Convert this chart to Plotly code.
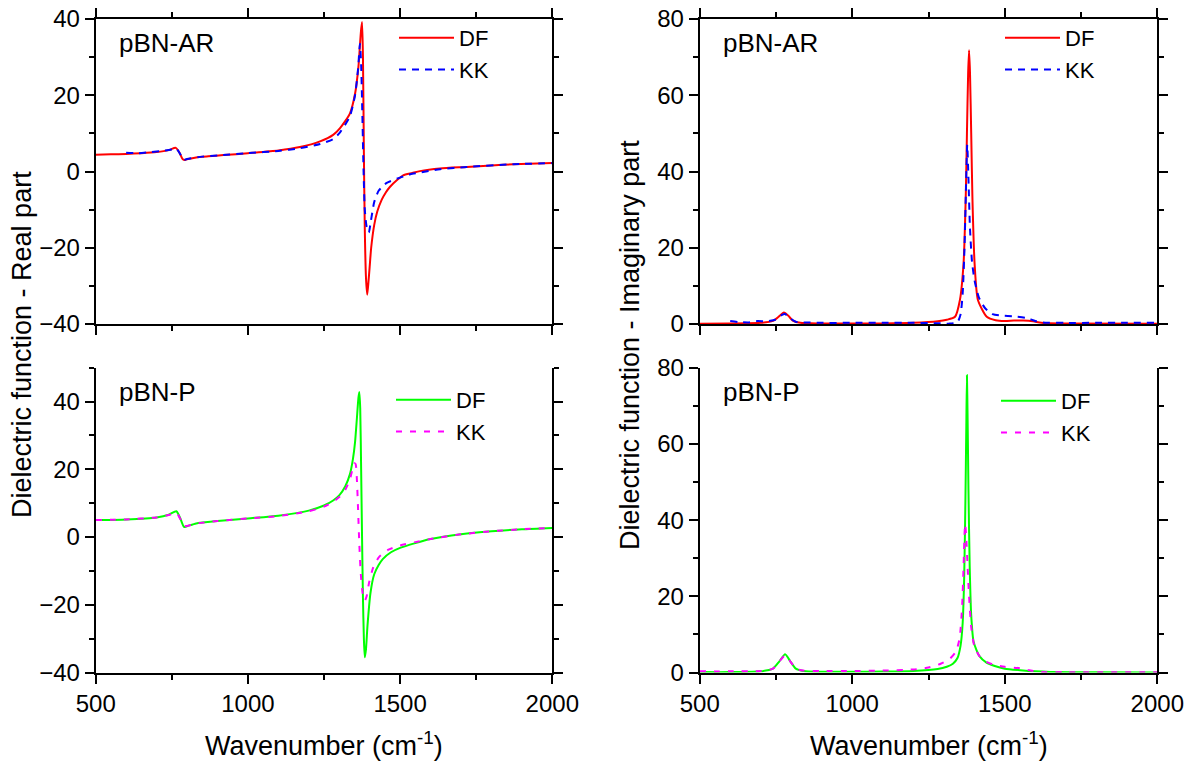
import plotly.graph_objects as go

# ---------------- data ----------------
# pBN-AR, real part
ar_re_df_x = [500, 550, 600, 650, 700, 740, 763, 775, 785, 791, 800, 830, 870, 920, 1000, 1100, 1171, 1237,
              1280, 1302, 1335, 1352, 1363, 1371, 1375, 1378, 1381, 1384, 1388, 1392, 1396, 1400, 1405, 1415,
              1425, 1439, 1453, 1467, 1489, 1510, 1540, 1565, 1631, 1719, 1800, 1872, 2000]
ar_re_df_y = [4.4, 4.5, 4.6, 4.8, 5.1, 5.6, 6.2, 5.0, 3.3, 3.0, 3.2, 3.7, 4.0, 4.3, 4.8, 5.5, 6.4, 7.9,
              9.6, 11.3, 15.2, 20.4, 27.4, 36.4, 39.2, 30, 5, -15, -28, -32.3, -29, -25, -20, -14,
              -10.5, -7.5, -5.5, -4.0, -2.3, -1.0, -0.4, 0.1, 0.8, 1.2, 1.6, 1.9, 2.25]
ar_re_kk_x = [600, 640, 680, 720, 750, 765, 778, 790, 800, 850, 900, 1000, 1100, 1171, 1237, 1280, 1302,
              1335, 1352, 1362, 1368, 1372, 1376, 1380, 1384, 1390, 1397, 1404, 1415, 1430, 1456, 1500,
              1540, 1565, 1631, 1719, 1872, 2000]
ar_re_kk_y = [4.9, 4.8, 5.1, 5.4, 5.8, 6.0, 4.5, 3.0, 3.3, 3.9, 4.2, 4.8, 5.4, 6.1, 7.2, 8.5, 10.2,
              14.5, 20, 27, 33.5, 28, 15, 0, -10, -14.5, -16, -13, -8, -5, -3, -1.6,
              -0.6, -0.3, 0.6, 1.2, 1.9, 2.2]

# pBN-AR, imaginary part
ar_im_df_x = [500, 600, 700, 740, 760, 776, 790, 805, 830, 900, 1000, 1100, 1200, 1280, 1310, 1337, 1353,
              1365, 1372, 1376, 1380, 1383, 1386, 1390, 1394, 1401, 1412, 1441, 1470, 1500, 1530, 1560,
              1593, 1620, 1700, 2000]
ar_im_df_y = [0.05, 0.1, 0.3, 0.8, 2.0, 3.0, 2.2, 0.9, 0.3, 0.15, 0.1, 0.15, 0.3, 0.7, 1.1, 1.9, 6.3,
              16, 33, 50, 66, 71.8, 66, 50, 33, 16, 6.3, 1.9, 1.0, 0.8, 0.9, 0.9,
              0.7, 0.3, 0.1, 0.05]
ar_im_kk_x = [600, 630, 660, 690, 720, 750, 770, 780, 795, 815, 850, 900, 1000, 1100, 1200, 1280, 1320,
              1345, 1355, 1362, 1368, 1373, 1377, 1381, 1386, 1393, 1402, 1415, 1435, 1460, 1490, 1530,
              1570, 1600, 1625, 1700, 1800, 1900, 1990]
ar_im_kk_y = [0.8, 0.5, 0.4, 0.8, 0.7, 1.2, 2.4, 2.6, 1.6, 0.6, 0.4, 0.3, 0.3, 0.3, 0.3, 0.2, 0.1,
              0.5, 2.5, 8, 20, 36, 47, 38, 25, 16, 11, 7, 4.2, 2.6, 2.2, 2.0,
              1.6, 0.8, 0.4, 0.3, 0.3, 0.3, 0.3]

# pBN-P, real part
p_re_df_x = [500, 600, 700, 740, 765, 778, 790, 800, 830, 900, 1000, 1100, 1200, 1250, 1280, 1300, 1320,
             1335, 1345, 1352, 1358, 1363, 1366, 1369, 1372, 1375, 1378, 1381, 1384, 1388, 1393, 1403,
             1415, 1430, 1443, 1470, 1500, 1550, 1600, 1700, 1800, 1900, 2000]
p_re_df_y = [5.0, 5.2, 5.8, 6.6, 7.6, 5.5, 3.0, 3.2, 4.0, 4.7, 5.5, 6.3, 7.8, 9.3, 10.8, 12.3, 15,
             18.5, 23, 28, 35, 41, 42.8, 38, 20, 0, -18, -30, -35.5, -33, -26, -16.3,
             -11, -8.2, -6.5, -4.5, -3.2, -1.8, -0.6, 0.8, 1.7, 2.3, 2.7]
p_re_kk_x = [500, 600, 700, 740, 765, 778, 790, 800, 830, 900, 1000, 1100, 1200, 1250, 1280, 1300, 1320,
             1335, 1345, 1350, 1354, 1358, 1362, 1366, 1371, 1377, 1384, 1390, 1398, 1412, 1430, 1460,
             1500, 1550, 1600, 1700, 1800, 1900, 2000]
p_re_kk_y = [5.0, 5.2, 5.8, 6.5, 7.2, 5.3, 3.2, 3.3, 4.0, 4.7, 5.5, 6.2, 7.6, 9.0, 10.4, 11.8, 14,
             17, 20.5, 21.8, 21.5, 17, 8, -2, -11, -16.5, -18.8, -17.5, -13.5, -8.9, -6, -3.8,
             -2.5, -1.5, -0.6, 0.8, 1.7, 2.3, 2.7]

# pBN-P, imaginary part
p_im_df_x = [500, 600, 700, 740, 760, 780, 798, 815, 840, 900, 1000, 1100, 1200, 1280, 1310, 1330, 1345,
             1355, 1362, 1367, 1371, 1374, 1376, 1378, 1381, 1385, 1390, 1398, 1417, 1440, 1467, 1500,
             1550, 1600, 1650, 1800, 2000]
p_im_df_y = [0.1, 0.1, 0.3, 1.0, 2.8, 4.8, 2.8, 1.0, 0.4, 0.2, 0.2, 0.25, 0.4, 0.9, 1.5, 2.3, 3.8,
             7, 13, 25, 45, 65, 78, 68, 48, 28, 15, 8, 4.3, 2.6, 1.7, 1.0,
             0.6, 0.3, 0.15, 0.05, 0.03]
p_im_kk_x = [500, 600, 700, 740, 760, 780, 798, 815, 840, 900, 1000, 1100, 1200, 1250, 1290, 1320, 1340,
             1352, 1360, 1365, 1370, 1374, 1378, 1383, 1390, 1400, 1417, 1440, 1467, 1500, 1550, 1580,
             1610, 1700, 2000]
p_im_kk_y = [0.3, 0.3, 0.4, 1.0, 2.8, 4.5, 2.8, 1.0, 0.5, 0.4, 0.4, 0.5, 0.8, 1.3, 2.3, 3.6, 5.5,
             9, 17, 28, 39, 35, 28, 20, 12, 7, 4.3, 2.8, 2.0, 1.5, 1.1, 0.6,
             0.15, 0.1, 0.05]

x_ticks = [500, 1000, 1500, 2000]
panel_labels = ["pBN-AR", "pBN-AR", "pBN-P", "pBN-P"]
y_titles = ["Dielectric function - Real part", "Dielectric function - Imaginary part"]
x_title = "Wavenumber (cm<sup>-1</sup>)"

# ---------------- figure ----------------
FONT = "Arial, Liberation Sans, sans-serif"
RED, BLUE, GREEN, MAG = "#FF0000", "#0000FF", "#00FF00", "#FF00FF"
LW = 2

fig = go.Figure()

def add(x, y, color, dash, name, xa, ya, leg):
    fig.add_trace(go.Scatter(x=x, y=y, mode="lines", name=name,
                             line=dict(color=color, width=LW, dash=dash, shape="spline", smoothing=0.6),
                             xaxis=xa, yaxis=ya, legend=leg))

add(ar_re_df_x, ar_re_df_y, RED, "solid", "DF", "x", "y", "legend")
add(ar_re_kk_x, ar_re_kk_y, BLUE, "7px,6px", "KK", "x", "y", "legend")
add(ar_im_df_x, ar_im_df_y, RED, "solid", "DF", "x2", "y2", "legend2")
add(ar_im_kk_x, ar_im_kk_y, BLUE, "7px,6px", "KK", "x2", "y2", "legend2")
add(p_re_df_x, p_re_df_y, GREEN, "solid", "DF", "x3", "y3", "legend3")
add(p_re_kk_x, p_re_kk_y, MAG, "6px,8px", "KK", "x3", "y3", "legend3")
add(p_im_df_x, p_im_df_y, GREEN, "solid", "DF", "x4", "y4", "legend4")
add(p_im_kk_x, p_im_kk_y, MAG, "6px,8px", "KK", "x4", "y4", "legend4")

W, H = 1194, 767
def px_x(a, b):
    return [a / W, b / W]
def px_y(top, bot):
    return [1 - bot / H, 1 - top / H]

LX = px_x(95.7, 552.3)
RX = px_x(699.7, 1157.3)
TY = px_y(19, 324)
BY = px_y(367.7, 672.5)

tickfont = dict(family=FONT, size=24, color="black")

def xaxis(domain, anchor, top):
    return dict(domain=domain, anchor=anchor, range=[500, 2000], automargin=False,
                tickvals=x_ticks, ticks="outside", ticklen=9, tickwidth=2, tickcolor="black",
                showline=True, linewidth=2, linecolor="black",
                mirror="ticks" if top else False,
                showticklabels=not top, tickfont=tickfont,
                showgrid=False, zeroline=False,
                minor=dict(dtick=250, tick0=500, ticks="outside", ticklen=5, tickwidth=2,
                           tickcolor="black", showgrid=False))

def yaxis(domain, anchor, rng, dtick, minor):
    return dict(domain=domain, anchor=anchor, range=rng, dtick=dtick, tick0=0, automargin=False,
                ticks="outside", ticklen=9, tickwidth=2, tickcolor="black",
                showline=True, linewidth=2, linecolor="black", mirror="ticks",
                tickfont=tickfont, showgrid=False, zeroline=False,
                minor=dict(dtick=minor, ticks="outside", ticklen=5, tickwidth=2,
                           tickcolor="black", showgrid=False))

legfont = dict(family=FONT, size=22, color="black")
def legend(x_px, y_px):
    return dict(x=x_px / W, y=1 - y_px / H, xanchor="left", yanchor="top",
                bgcolor="rgba(0,0,0,0)", borderwidth=0, font=legfont,
                itemwidth=55, tracegroupgap=0, itemclick=False)

fig.update_layout(
    width=W, height=H,
    margin=dict(l=0, r=0, t=0, b=0, autoexpand=False),
    paper_bgcolor="white", plot_bgcolor="white",
    font=dict(family=FONT, color="black"),
    showlegend=True,
    xaxis=xaxis(LX, "y", True),
    yaxis=yaxis(TY, "x", [-40, 40], 20, 10),
    xaxis2=xaxis(RX, "y2", True),
    yaxis2=yaxis(TY, "x2", [0, 80], 20, 10),
    xaxis3=xaxis(LX, "y3", False),
    yaxis3=yaxis(BY, "x3", [-40, 50], 20, 10),
    xaxis4=xaxis(RX, "y4", False),
    yaxis4=yaxis(BY, "x4", [0, 80], 20, 10),
    legend=legend(394, 17),
    legend2=legend(1000, 17),
    legend3=legend(391, 379),
    legend4=legend(996, 380),
)

lab_font = dict(family=FONT, size=26, color="black")
ann = []
for (xd, yd, txt) in [(LX, TY, panel_labels[0]), (RX, TY, panel_labels[1]),
                      (LX, BY, panel_labels[2]), (RX, BY, panel_labels[3])]:
    ann.append(dict(x=xd[0] + 21 / W, y=yd[1] - 24 / H, xref="paper", yref="paper",
                    xanchor="left", yanchor="middle", text=txt, showarrow=False, font=lab_font))
title_font = dict(family=FONT, size=27, color="black")
ann.append(dict(x=22 / W, y=1 - 345 / H, xref="paper", yref="paper", text=y_titles[0],
                textangle=-90, showarrow=False, font=title_font, xanchor="center", yanchor="middle"))
ann.append(dict(x=630 / W, y=1 - 345 / H, xref="paper", yref="paper", text=y_titles[1],
                textangle=-90, showarrow=False, font=title_font, xanchor="center", yanchor="middle"))
ann.append(dict(x=(LX[0] + LX[1]) / 2, y=1 - 744 / H, xref="paper", yref="paper", text=x_title,
                showarrow=False, font=title_font, xanchor="center", yanchor="middle"))
ann.append(dict(x=(RX[0] + RX[1]) / 2, y=1 - 744 / H, xref="paper", yref="paper", text=x_title,
                showarrow=False, font=title_font, xanchor="center", yanchor="middle"))
fig.update_layout(annotations=ann)

fig.write_html("out.html", config={"displayModeBar": False},
               post_script="document.body.style.margin='0px';document.body.style.padding='0px';")
